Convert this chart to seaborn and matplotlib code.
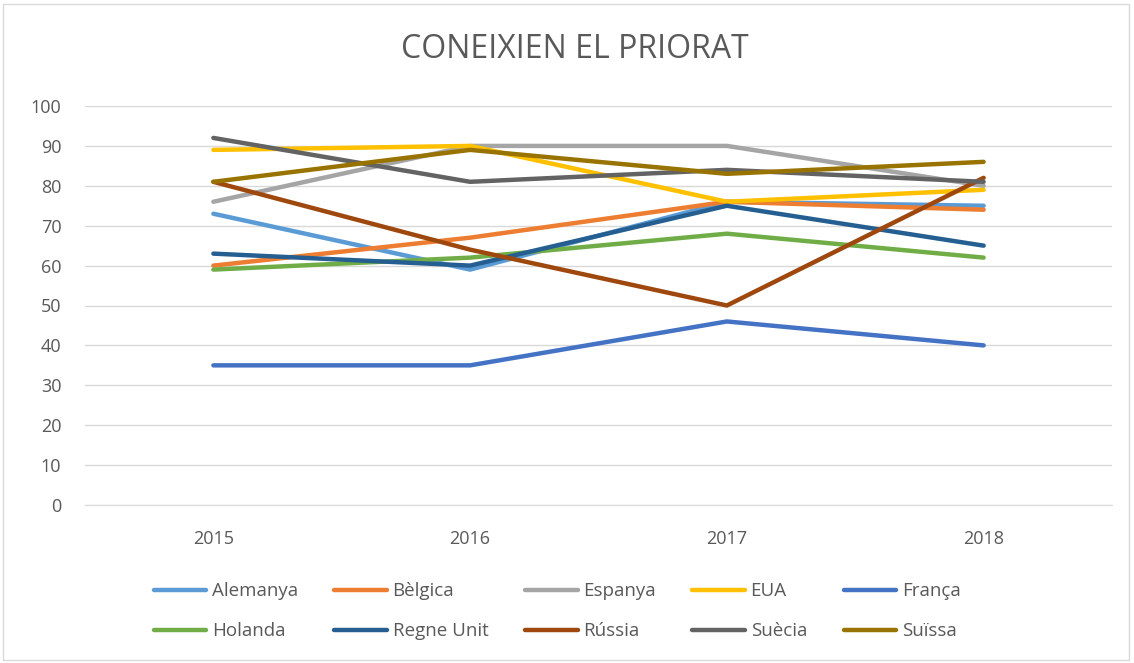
import pandas as pd
import matplotlib.pyplot as plt
import seaborn as sns
from matplotlib.patches import Rectangle

# Data
years = ["2015", "2016", "2017", "2018"]
countries = ["Alemanya", "Bèlgica", "Espanya", "EUA", "França",
             "Holanda", "Regne Unit", "Rússia", "Suècia", "Suïssa"]
alemanya = [73, 59, 76, 75]
belgica = [60, 67, 76, 74]
espanya = [76, 90, 90, 80]
eua = [89, 90, 76, 79]
franca = [35, 35, 46, 40]
holanda = [59, 62, 68, 62]
regne_unit = [63, 60, 75, 65]
russia = [81, 64, 50, 82]
suecia = [92, 81, 84, 81]
suissa = [81, 89, 83, 86]
colors = ["#5B9BD5", "#ED7D31", "#A5A5A5", "#FFC000", "#4472C4",
          "#70AD47", "#255E91", "#9E480E", "#636363", "#997300"]

series = [alemanya, belgica, espanya, eua, franca,
          holanda, regne_unit, russia, suecia, suissa]
rows = []
for name, vals in zip(countries, series):
    for y, v in zip(years, vals):
        rows.append({"Any": y, "Valor": v, "País": name})
df = pd.DataFrame(rows)

sns.set_style("white")
plt.rcParams['font.family'] = ['Open Sans', 'DejaVu Sans']
txt = "#595959"

fig = plt.figure(figsize=(11.34, 6.63), dpi=100)
ax = fig.add_axes([85/1134, 1 - 505/663, 1027/1134, 399/663])

sns.lineplot(data=df, x="Any", y="Valor", hue="País", hue_order=countries,
             palette=colors, linewidth=3.2, ax=ax, legend=False,
             solid_capstyle="round", sort=False)

ax.set_xlim(-0.5, 3.5)
ax.set_ylim(0, 100)
ax.set_yticks(range(0, 101, 10))
ax.yaxis.grid(True, color="#d9d9d9", linewidth=1)
ax.set_axisbelow(True)
for s in ["top", "right", "left"]:
    ax.spines[s].set_visible(False)
ax.spines["bottom"].set_color("#d9d9d9")
ax.tick_params(axis="both", length=0, labelsize=13, labelcolor=txt)
ax.tick_params(axis="x", pad=18)
ax.tick_params(axis="y", pad=17)
ax.set_xlabel("")
ax.set_ylabel("")

fig.text(575/1134, 1 - 50/663, "CONEIXIEN EL PRIORAT", ha="center",
         va="center", fontsize=23, color=txt)

# legend filled row by row, 5 columns x 2 rows
handles = [plt.Line2D([], [], color=c, linewidth=3.2, solid_capstyle="round")
           for c in colors]
order = [0, 5, 1, 6, 2, 7, 3, 8, 4, 9]
fig.legend([handles[i] for i in order], [countries[i] for i in order],
           loc="upper left", ncol=5, mode="expand",
           bbox_to_anchor=(146/1134, 0, 822/1134, 88/663),
           frameon=False, fontsize=13.5, labelcolor=txt, handlelength=2.8,
           handletextpad=0.3, labelspacing=1.15, borderaxespad=0)

fig.patches.append(Rectangle((3/1134, 3/663), 1126/1134, 656/663,
                             transform=fig.transFigure, fill=False,
                             edgecolor="#d9d9d9", linewidth=1))

fig.savefig("out.png", dpi=100)
